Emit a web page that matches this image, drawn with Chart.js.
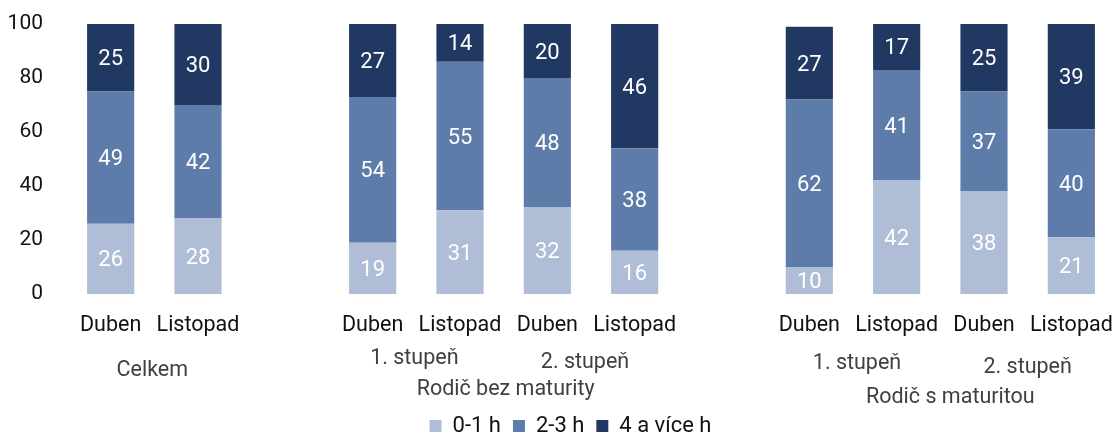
<!DOCTYPE html>
<html>
<head>
<meta charset="utf-8">
<script src="https://cdn.jsdelivr.net/npm/chart.js@4.4.1/dist/chart.umd.min.js"></script>
<style>
html,body{margin:0;padding:0;background:#fff;}
#wrap{width:1117px;height:435px;position:relative;}
</style>
</head>
<body>
<div id="wrap"><canvas id="c"></canvas></div>
<script>
// ---- data ----
const categories = ['Duben','Listopad','','Duben','Listopad','Duben','Listopad','','Duben','Listopad','Duben','Listopad'];
const hours0to1 = [26, 28, null, 19, 31, 32, 16, null, 10, 42, 38, 21];
const hours2to3 = [49, 42, null, 54, 55, 48, 38, null, 62, 41, 37, 40];
const hours4plus = [25, 30, null, 27, 14, 20, 46, null, 27, 17, 25, 39];
const seriesNames = ['0-1 h', '2-3 h', '4 a více h'];
const yTickValues = [0, 20, 40, 60, 80, 100];
const subGroupLabels = ['1. stupeň', '2. stupeň', '1. stupeň', '2. stupeň'];
const subGroupSpans = [[3, 4], [5, 6], [8, 9], [10, 11]];
const mainGroupLabels = ['Celkem', 'Rodič bez maturity', 'Rodič s maturitou'];
const mainGroupSpans = [[0, 1], [3, 6], [8, 11]];

// ---- style ----
const FONT = 'Roboto, "Noto Sans", sans-serif';
const colors = ['#afbdd7', '#5e7ca9', '#213862'];
// vertical offsets (px below chart area) for group label rows
const subGroupDy = [65, 69, 70, 74];
const subGroupDx = [-2, -6, 4, 0];
const mainGroupDy = [77, 96, 104];
const mainGroupDx = [-2, 2, 10];
const legendShiftX = 13;

const groupLabelPlugin = {
  id: 'groupLabels',
  afterLayout(chart) {
    if (chart.legend) {
      chart.legend.left += legendShiftX;
      chart.legend.right += legendShiftX;
    }
  },
  afterDraw(chart) {
    const xs = chart.scales.x;
    const bottom = chart.chartArea.bottom;
    const ctx = chart.ctx;
    ctx.save();
    ctx.font = '21.5px ' + FONT;
    ctx.fillStyle = '#404040';
    ctx.textAlign = 'center';
    ctx.textBaseline = 'middle';
    subGroupLabels.forEach((lab, i) => {
      const [a, b] = subGroupSpans[i];
      const cx = (xs.getPixelForValue(a) + xs.getPixelForValue(b)) / 2;
      ctx.fillText(lab, cx + subGroupDx[i], bottom + subGroupDy[i]);
    });
    mainGroupLabels.forEach((lab, i) => {
      const [a, b] = mainGroupSpans[i];
      const cx = (xs.getPixelForValue(a) + xs.getPixelForValue(b)) / 2;
      ctx.fillText(lab, cx + mainGroupDx[i], bottom + mainGroupDy[i]);
    });
    ctx.restore();
  }
};

const valueLabelPlugin = {
  id: 'valueLabels',
  afterDatasetsDraw(chart) {
    const ctx = chart.ctx;
    ctx.save();
    ctx.font = '22px ' + FONT;
    ctx.fillStyle = '#ffffff';
    ctx.textAlign = 'center';
    ctx.textBaseline = 'middle';
    chart.data.datasets.forEach((ds, di) => {
      const meta = chart.getDatasetMeta(di);
      meta.data.forEach((el, i) => {
        const v = ds.data[i];
        if (v === null || v === undefined) return;
        ctx.fillText(String(v), el.x, (el.y + el.base) / 2 + 2);
      });
    });
    ctx.restore();
  }
};

new Chart(document.getElementById('c'), {
  type: 'bar',
  data: {
    labels: categories,
    datasets: [
      { label: seriesNames[0], data: hours0to1, backgroundColor: colors[0] },
      { label: seriesNames[1], data: hours2to3, backgroundColor: colors[1] },
      { label: seriesNames[2], data: hours4plus, backgroundColor: colors[2] }
    ]
  },
  options: {
    responsive: true,
    maintainAspectRatio: false,
    animation: false,
    datasets: { bar: { barPercentage: 0.54, categoryPercentage: 1.0 } },
    layout: { padding: { top: 24, right: 2, left: 0, bottom: -12 } },
    scales: {
      x: {
        stacked: true,
        grid: { display: false, drawTicks: false },
        border: { display: false },
        ticks: { font: { family: FONT, size: 21.5 }, color: '#111', padding: 19, maxRotation: 0, autoSkip: false },
        afterFit(scale) { scale.height = 109; scale.paddingLeft = 0; scale.paddingRight = 0; }
      },
      y: {
        stacked: true,
        min: 0, max: 100,
        grid: { display: false, drawTicks: false },
        border: { display: false },
        afterBuildTicks(scale) { scale.ticks = yTickValues.map(v => ({ value: v })); },
        ticks: { font: { family: FONT, size: 21 }, color: '#111', padding: 24 },
        afterFit(scale) { scale.width = 67; scale.paddingTop = 0; scale.paddingBottom = 0; }
      }
    },
    plugins: {
      legend: {
        position: 'bottom',
        labels: { font: { family: FONT, size: 22 }, color: '#111', boxWidth: 12, boxHeight: 12, padding: 12 }
      },
      tooltip: { enabled: false }
    }
  },
  plugins: [groupLabelPlugin, valueLabelPlugin]
});
</script>
</body>
</html>
